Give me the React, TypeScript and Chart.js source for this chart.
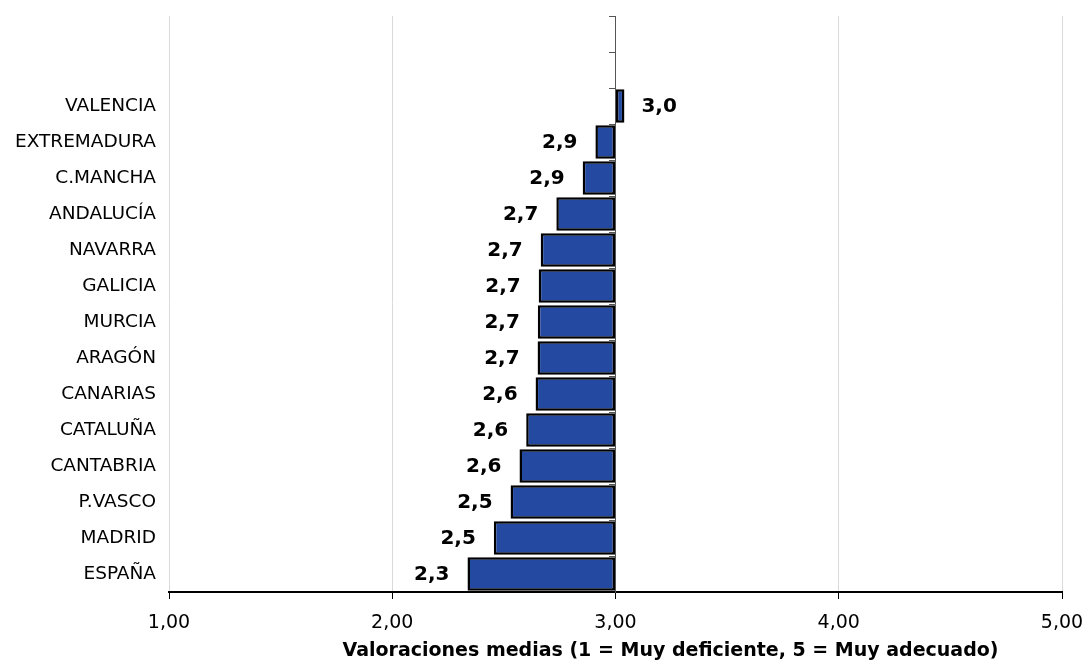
import React, { useEffect, useRef } from "react";
import { Chart, registerables } from "chart.js";

Chart.register(...registerables);

const categories = [
  "", " ", "VALENCIA", "EXTREMADURA", "C.MANCHA", "ANDALUCÍA", "NAVARRA", "GALICIA",
  "MURCIA", "ARAGÓN", "CANARIAS", "CATALUÑA", "CANTABRIA", "P.VASCO", "MADRID", "ESPAÑA",
];
const values: (number | null)[] = [
  null, null, 3.04, 2.91, 2.853, 2.735, 2.665, 2.656, 2.652, 2.651, 2.642, 2.6, 2.57, 2.53, 2.455, 2.337,
];
const baseValue = 3;
const xTicks = [1, 2, 3, 4, 5];
const axisTitle = "Valoraciones medias (1 = Muy deficiente, 5 = Muy adecuado)";

const FONT = "'DejaVu Sans', Verdana, sans-serif";

const valueLabels = {
  id: "valueLabels",
  afterDatasetsDraw(chart: any) {
    const ctx = chart.ctx;
    const meta = chart.getDatasetMeta(0);
    ctx.save();
    ctx.font = `bold 20px ${FONT}`;
    ctx.fillStyle = "#000";
    ctx.textBaseline = "middle";
    meta.data.forEach((el: any, i: number) => {
      const v = values[i];
      if (v == null) return;
      const txt = (Math.round(v * 10) / 10).toFixed(1).replace(".", ",");
      const left = Math.min(el.x, el.base);
      const right = Math.max(el.x, el.base);
      if (v < baseValue) {
        ctx.textAlign = "right";
        ctx.fillText(txt, left - 18, el.y + 1);
      } else {
        ctx.textAlign = "left";
        ctx.fillText(txt, right + 17, el.y + 1);
      }
    });
    ctx.restore();
  },
};

const axisTitlePlugin = {
  id: "axisTitlePlugin",
  afterDraw(chart: any) {
    const ctx = chart.ctx;
    const xs = chart.scales.x;
    ctx.save();
    ctx.font = `bold 19px ${FONT}`;
    ctx.fillStyle = "#000";
    ctx.textAlign = "center";
    ctx.textBaseline = "middle";
    const cx = (chart.chartArea.left + chart.chartArea.right) / 2 + 55;
    ctx.fillText(axisTitle, cx, xs.bottom - 12);
    ctx.restore();
  },
};

export default function App() {
  const ref = useRef<HTMLCanvasElement>(null);
  useEffect(() => {
    if (!ref.current) return;
    const chart = new Chart(ref.current, {
      type: "bar",
      data: {
        labels: categories,
        datasets: [
          {
            data: values as any,
            base: baseValue,
            backgroundColor: "#2349A1",
            borderColor: "#000",
            borderWidth: 2.5,
            borderSkipped: false,
            barPercentage: 0.93,
            categoryPercentage: 1,
          } as any,
        ],
      },
      options: {
        indexAxis: "y",
        animation: false,
        responsive: true,
        maintainAspectRatio: false,
        layout: { padding: { left: 0, right: 24, top: 16, bottom: 0 } },
        plugins: { legend: { display: false }, tooltip: { enabled: false } },
        scales: {
          x: {
            type: "linear",
            min: 1,
            max: 5,
            afterBuildTicks: (scale: any) => {
              scale.ticks = xTicks.map((v) => ({ value: v }));
            },
            afterFit: (scale: any) => {
              scale.height = 71;
              scale.paddingLeft = 0;
              scale.paddingRight = 0;
            },
            ticks: {
              stepSize: 1,
              color: "#000",
              font: { family: FONT, size: 19 },
              padding: 13,
              callback: (v: any) => Number(v).toFixed(2).replace(".", ","),
            },
            grid: {
              color: "#d9d9d9",
              lineWidth: 1,
              tickColor: "#000",
              tickLength: 7,
            },
            border: { display: true, color: "#000", width: 2 },
          },
          y: {
            type: "category",
            position: "left",
            afterFit: (scale: any) => {
              scale.width = 169;
              scale.paddingTop = 0;
              scale.paddingBottom = 0;
            },
            ticks: {
              color: "#000",
              font: { family: FONT, size: 18.5 },
              padding: 13,
            },
            grid: { display: false, drawTicks: false },
            border: { display: false },
          },
          y2: {
            type: "category",
            position: { x: 3 } as any,
            afterFit: (scale: any) => {
              scale.paddingTop = 0;
              scale.paddingBottom = 0;
            },
            ticks: { display: false },
            grid: {
              drawOnChartArea: false,
              drawTicks: true,
              tickLength: 6,
              tickColor: "#555",
              offset: true,
            },
            border: { display: true, color: "#555", width: 1 },
          },
        },
      },
      plugins: [valueLabels, axisTitlePlugin],
    });
    return () => chart.destroy();
  }, []);
  return (
    <div style={{ position: "fixed", left: 0, top: 0, width: 1086, height: 663, background: "#fff" }}>
      <canvas ref={ref} />
    </div>
  );
}
